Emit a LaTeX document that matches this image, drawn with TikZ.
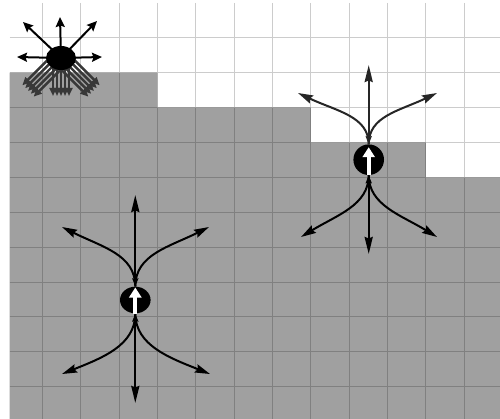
\documentclass[tikz,border=0pt]{standalone}
\usetikzlibrary{arrows.meta,shapes.geometric,calc}

\definecolor{floorgray}{HTML}{A0A0A0}
\definecolor{raygray}{HTML}{383838}

\newcommand*{\cellw}{38.36}
\newcommand*{\cellh}{34.9}
\newcommand*{\gridx}{3.94}
\newcommand*{\gridy}{2.8}

\begin{document}
\begin{tikzpicture}
[
	x=1pt, y=-1pt,
	gridline/.style={black,opacity=0.2,line width=0.9pt},
	blob/.style={ellipse,fill=black,inner sep=0pt},
	spoke/.style={black,line width=2pt,-{Stealth[length=10pt,width=9pt,inset=1.5pt]}},
	bundle/.style={raygray,line width=2.4pt,-{Triangle[length=8pt,width=7pt]}},
	ray/.style={line width=2.2pt,{Stealth[length=8pt,width=6pt,inset=1pt]}-{Stealth[length=17pt,width=8pt,inset=1.5pt]}},
	curlray/.style={line width=2pt,-{Stealth[length=15pt,width=8.5pt,inset=2pt]}},
	heading/.style={white,line width=4pt,-{Triangle[length=10pt,width=12pt]}}
]

	\useasboundingbox (0,0) rectangle (500,419);

	% floor
	\fill[white] (0,0) rectangle (500,419);
	\fill[floorgray] (9.5,72.6) -| (157.4,107.5) -| (310.8,142.4) -| (425.9,177.3) -| (500,419) -- (9.5,419) -- cycle;

	% grid
	\draw[gridline]
		\foreach \i in {1,...,12} { ({\gridx+\cellw*\i},3) -- ({\gridx+\cellw*\i},419) }
		\foreach \j in {1,...,11} { (9.5,{\gridy+\cellh*\j}) -- (500,{\gridy+\cellh*\j}) };

	% top left: robot with spread of moves
	\coordinate (tl-c) at (61,58);
	\foreach \o in {-8,-4,0,4,8} {
		\draw[bundle] ($(tl-c)+(0.707*\o,0.707*\o)$) -- ++(-33,33);
		\draw[bundle] ($(tl-c)+(\o,0)$) -- ++(0,38);
		\draw[bundle] ($(tl-c)+(0.707*\o,-0.707*\o)$) -- ++(33,33);
	}
	\node[blob,minimum width=30pt,minimum height=24pt] (tl) at (tl-c) {};
	\coordinate (tl-n) at (60,17);
	\coordinate (tl-nw) at (23,22);
	\coordinate (tl-ne) at (97,21);
	\coordinate (tl-w) at (17,57);
	\coordinate (tl-e) at (102,57);
	\foreach \tip in {n,nw,ne,w,e}
		\draw[spoke] (tl.center) -- (tl-\tip);

	% right: robot on the step
	\node[blob,minimum width=30.6pt,minimum height=30.6pt] (rt) at (368.7,159.7) {};
	\coordinate (rt-n) at (368.7,65);
	\coordinate (rt-nw) at (298,93);
	\coordinate (rt-ne) at (437,93);
	\coordinate (rt-s) at (368.7,254);
	\coordinate (rt-sw) at (301,237);
	\coordinate (rt-se) at (437,237);
	\draw[ray,black!85] (rt.north) -- (rt-n);
	\draw[curlray,black!85] (rt.north) .. controls +(0,-28) and +(38,18) .. (rt-nw);
	\draw[curlray,black!85] (rt.north) .. controls +(0,-28) and +(-38,18) .. (rt-ne);
	\draw[ray] (rt.south) -- (rt-s);
	\draw[curlray] (rt.south) .. controls +(0,30) and +(36,-22) .. (rt-sw);
	\draw[curlray] (rt.south) .. controls +(0,30) and +(-36,-22) .. (rt-se);
	\draw[heading] (rt.south) -- ([yshift=-3pt]rt.north);

	% lower left: robot in the open
	\node[blob,minimum width=30.6pt,minimum height=26.6pt] (ll) at (135.3,300) {};
	\coordinate (ll-n) at (135.3,195);
	\coordinate (ll-nw) at (62,227);
	\coordinate (ll-ne) at (209,227);
	\coordinate (ll-s) at (135.3,403);
	\coordinate (ll-sw) at (62,374);
	\coordinate (ll-se) at (210,374);
	\draw[ray] (ll.north) -- (ll-n);
	\draw[curlray] (ll.north) .. controls +(0,-32) and +(40,20) .. (ll-nw);
	\draw[curlray] (ll.north) .. controls +(0,-32) and +(-40,20) .. (ll-ne);
	\draw[ray] (ll.south) -- (ll-s);
	\draw[curlray] (ll.south) .. controls +(0,32) and +(40,-16) .. (ll-sw);
	\draw[curlray] (ll.south) .. controls +(0,32) and +(-40,-16) .. (ll-se);
	\draw[heading] (ll.south) -- ([yshift=-1pt]ll.north);

\end{tikzpicture}
\end{document}
